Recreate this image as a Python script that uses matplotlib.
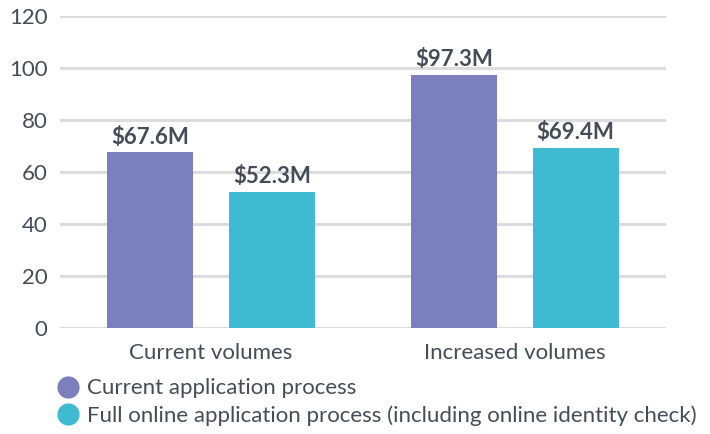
import numpy as np
import matplotlib
matplotlib.use("Agg")
import matplotlib.pyplot as plt
from matplotlib.lines import Line2D

# data
categories = ["Current volumes", "Increased volumes"]
series_names = ["Current application process",
                "Full online application process (including online identity check)"]
current_process = [67.6, 97.3]
online_process = [52.3, 69.4]
value_labels = [["$67.6M", "$97.3M"], ["$52.3M", "$69.4M"]]
y_ticks = [0, 20, 40, 60, 80, 100, 120]

colors = ["#7b7fbd", "#3fbbd1"]
text_col = "#444d57"

plt.rcParams['font.family'] = ['Lato', 'DejaVu Sans']

fig = plt.figure(figsize=(7.1, 4.34), dpi=100)
ax = fig.add_axes([0.0845, 0.2442, 0.8535, 0.7188])

x = np.arange(len(categories))
width = 0.283
offsets = [-0.2, 0.2]

for i, vals in enumerate([current_process, online_process]):
    bars = ax.bar(x + offsets[i], vals, width, color=colors[i], zorder=3)
    for b, lab in zip(bars, value_labels[i]):
        ax.text(b.get_x() + b.get_width() / 2, b.get_height() + 1.8, lab,
                ha='center', va='bottom', fontsize=16, fontweight='bold',
                color=text_col)

ax.set_xlim(-0.497, 1.497)
ax.set_ylim(0, 120)
ax.set_yticks(y_ticks)
ax.set_xticks(x)
ax.set_xticklabels(categories)
ax.yaxis.grid(True, color="#dcdcdc", linewidth=2.2, zorder=0)
ax.set_axisbelow(True)
for s in ax.spines.values():
    s.set_visible(False)
ax.tick_params(axis='both', length=0, labelsize=16, labelcolor=text_col)
ax.tick_params(axis='y', pad=9)
ax.tick_params(axis='x', pad=11)

handles = [Line2D([], [], marker='o', linestyle='', markersize=15,
                  markerfacecolor=c, markeredgecolor=c) for c in colors]
fig.legend(handles, series_names, loc='upper left',
           bbox_to_anchor=(0.075, 0.128), frameon=False, fontsize=16,
           labelcolor=text_col, handletextpad=0.2, labelspacing=0.3,
           handlelength=1.3, borderpad=0, borderaxespad=0)

fig.savefig("out.png", dpi=100)
